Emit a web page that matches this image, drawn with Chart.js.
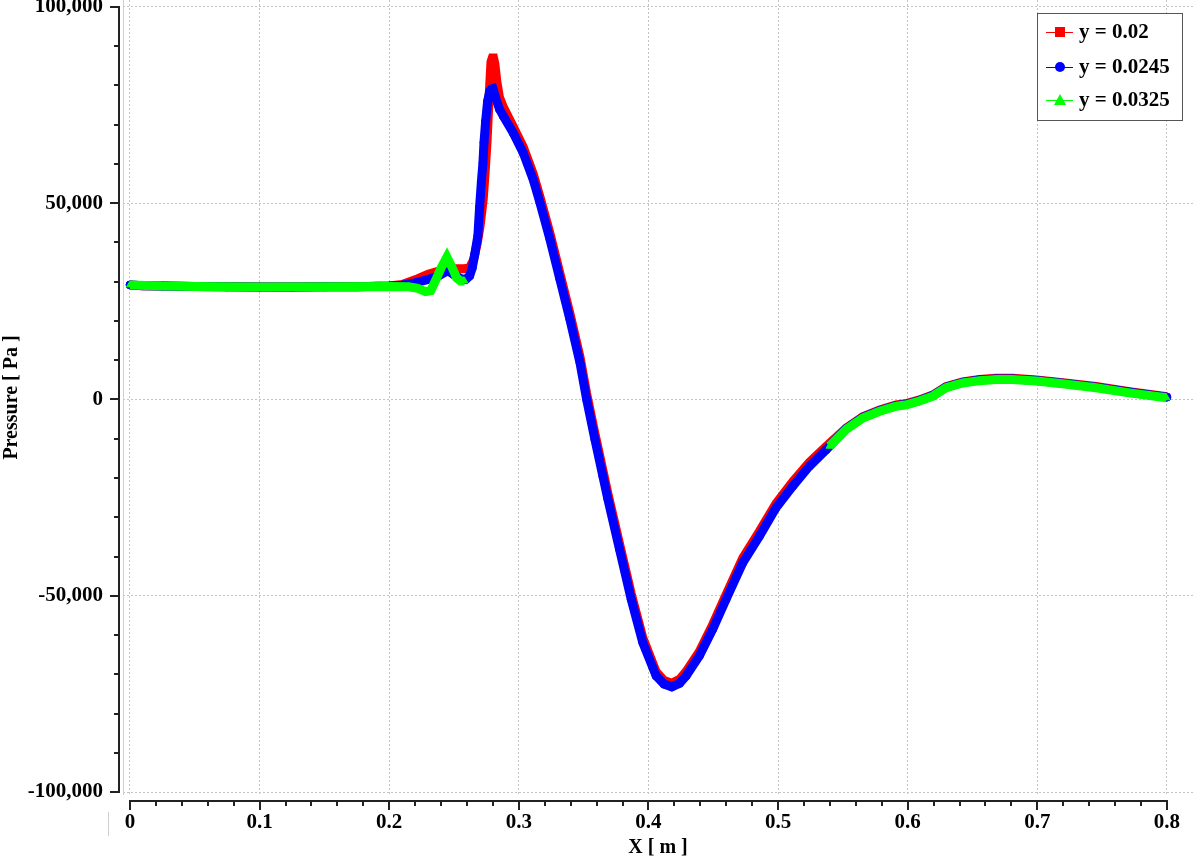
<!DOCTYPE html>
<html>
<head>
<meta charset="utf-8">
<title>Pressure along X</title>
<style>
  html, body { margin: 0; padding: 0; background: #ffffff; }
  #wrap { width: 1193px; height: 860px; }
</style>
</head>
<body>
<div id="wrap"><canvas id="myChart" width="1193" height="860"></canvas></div>

<script src="https://cdn.jsdelivr.net/npm/chart.js@4.4.0/dist/chart.umd.min.js"></script>
<script>

    // tick values and labels
    const xTicks = [0, 0.1, 0.2, 0.3, 0.4, 0.5, 0.6, 0.7, 0.8];
    const xTickLabels = ['0', '0.1', '0.2', '0.3', '0.4', '0.5', '0.6', '0.7', '0.8'];
    const yTicks = [-100000, -50000, 0, 50000, 100000];
    const yTickLabels = ['-100,000', '-50,000', '0', '50,000', '100,000'];

    const seriesNames = ['y = 0.02', 'y = 0.0245', 'y = 0.0325'];

    // y = 0.02 (red, squares)
    const redX = [0.000, 0.010, 0.025, 0.050, 0.075, 0.100, 0.125, 0.150, 0.175, 0.200,
        0.210, 0.220, 0.230, 0.240, 0.250, 0.258, 0.262, 0.265, 0.268, 0.270,
        0.2725, 0.274, 0.2755, 0.2765, 0.2775, 0.2785, 0.2795, 0.2805, 0.2815, 0.283,
        0.285, 0.288, 0.2957, 0.3034, 0.3111, 0.3163, 0.324, 0.3317, 0.3394, 0.3472,
        0.3523, 0.3587, 0.3648, 0.3687, 0.3777, 0.3867, 0.3956, 0.4059, 0.412, 0.418,
        0.424, 0.4291, 0.4393, 0.4496, 0.4599, 0.4727, 0.4856, 0.4984, 0.5112, 0.5241,
        0.537, 0.5526, 0.5654, 0.5783, 0.5911, 0.5996, 0.6091, 0.6193, 0.6296, 0.6424,
        0.6553, 0.6681, 0.6809, 0.6993, 0.7196, 0.7453, 0.7711, 0.800];
    const redY = [29200, 29000, 28900, 28800, 28700, 28650, 28650, 28700, 28750, 28900,
        29300, 30500, 31900, 32900, 33300, 33300, 33600, 35500, 40000, 44000,
        51000, 58000, 66000, 73000, 80000, 86000, 87000, 87000, 85500, 81000,
        77000, 74500, 69500, 64300, 57500, 51600, 42300, 32100, 21900, 10800,
        1500, -8700, -18000, -24000, -36800, -49500, -60700, -69400, -71600, -72300,
        -71300, -69300, -64200, -57300, -49700, -40400, -33600, -26500, -21000, -16000,
        -12000, -7300, -4400, -2700, -1400, -1000, -100, 1150, 3300, 4500,
        5100, 5400, 5400, 5000, 4300, 3300, 2000, 730];

    // y = 0.0245 (blue, circles)
    const blueX = [0.000, 0.010, 0.025, 0.050, 0.075, 0.100, 0.125, 0.150, 0.175, 0.200,
        0.210, 0.220, 0.230, 0.238, 0.245, 0.250, 0.255, 0.259, 0.262, 0.264,
        0.266, 0.2684, 0.2697, 0.2711, 0.2723, 0.2731, 0.2744, 0.2759, 0.2775, 0.2790,
        0.2800, 0.2815, 0.285, 0.288, 0.2957, 0.3034, 0.3111, 0.3163, 0.324, 0.3317,
        0.3394, 0.3472, 0.3523, 0.3587, 0.3648, 0.3687, 0.3777, 0.3867, 0.3956, 0.4059,
        0.412, 0.418, 0.424, 0.4291, 0.4393, 0.4496, 0.4599, 0.4727, 0.4856, 0.4984,
        0.5112, 0.5241, 0.537, 0.5526, 0.5654, 0.5783, 0.5911, 0.5996, 0.6091, 0.6193,
        0.6296, 0.6424, 0.6553, 0.6681, 0.6809, 0.6993, 0.7196, 0.7453, 0.7711, 0.800];
    const blueY = [29200, 29000, 28900, 28800, 28700, 28650, 28650, 28700, 28750, 28900,
        29100, 29700, 30600, 31500, 32800, 31800, 30800, 30600, 31500, 33500,
        37000, 41800, 49000, 55500, 60300, 65500, 71000, 76000, 78500, 79100,
        79200, 77500, 74000, 72200, 67900, 62800, 56000, 50100, 40800, 30600,
        20400, 9300, 0, -10200, -19500, -25400, -38200, -50900, -61900, -70400,
        -72500, -73200, -72300, -70400, -65300, -58500, -50900, -41600, -34800, -27600,
        -22100, -17000, -12800, -7450, -4550, -2850, -1550, -1150, -250, 1000,
        3150, 4350, 4950, 5250, 5250, 4850, 4150, 3150, 1850, 600];

    // y = 0.0325 (green, triangles) - no values between 0.26 and 0.54
    const greenX = [0.000, 0.025, 0.050, 0.100, 0.150, 0.200, 0.215, 0.222, 0.228, 0.232,
        0.236, 0.240, 0.2445, 0.248, 0.252, 0.255, 0.258, 0.400,
        0.5397, 0.5526, 0.5654, 0.5783, 0.5911, 0.5996, 0.6091, 0.6193, 0.6296, 0.6424,
        0.6553, 0.6681, 0.6809, 0.6993, 0.7196, 0.7453, 0.7711, 0.7996];
    const greenY = [29200, 28900, 28800, 28650, 28700, 28800, 28700, 28300, 27500, 27700,
        30500, 33500, 36300, 34000, 31000, 30200, 30200, null,
        -11900, -7600, -4700, -3000, -1700, -1300, -400, 850, 3000, 4200,
        4800, 5100, 5100, 4700, 4000, 3000, 1700, 430];

    const seriesColors = ['#ff0000', '#0000ff', '#00ff00'];
    const seriesShapes = ['rect', 'circle', 'triangle'];

    const FONT = 'Liberation Serif, Times New Roman, serif';

    function toPoints(xs, ys) {
        return xs.map((x, i) => ({ x: x, y: ys[i] }));
    }

    // axes drawn away from the plot, with minor ticks
    const axesFrame = {
        id: 'axesFrame',
        afterDraw(chart) {
            const { ctx, chartArea } = chart;
            const xs = chart.scales.x, ys = chart.scales.y;
            ctx.save();

            ctx.strokeStyle = '#cfcfcf';
            ctx.lineWidth = 1;
            ctx.beginPath();
            ctx.moveTo(chartArea.left + 0.5, chartArea.top);
            ctx.lineTo(chartArea.left + 0.5, chartArea.bottom);
            ctx.moveTo(108.5, 812);
            ctx.lineTo(108.5, 836);
            ctx.stroke();

            ctx.strokeStyle = '#222222';
            ctx.lineWidth = 2;

            // y axis
            const ax = chartArea.left - 4;
            ctx.beginPath();
            ctx.moveTo(ax, ys.getPixelForValue(yTicks[yTicks.length - 1]) - 1);
            ctx.lineTo(ax, ys.getPixelForValue(yTicks[0]) + 1);
            for (let v = yTicks[0]; v <= yTicks[yTicks.length - 1]; v += 10000) {
                const py = Math.round(ys.getPixelForValue(v));
                const len = (v % 50000 === 0) ? 9 : 5;
                ctx.moveTo(ax, py);
                ctx.lineTo(ax - len, py);
            }
            ctx.stroke();

            // x axis
            const ay = chartArea.bottom + 6;
            ctx.beginPath();
            ctx.moveTo(xs.getPixelForValue(xTicks[0]) - 1, ay);
            ctx.lineTo(xs.getPixelForValue(xTicks[xTicks.length - 1]) + 1, ay);
            for (let i = 0; i <= 40; i++) {
                const px = Math.round(xs.getPixelForValue(i * 0.02));
                const len = (i % 5 === 0) ? 9 : 5;
                ctx.moveTo(px, ay);
                ctx.lineTo(px, ay + len);
            }
            ctx.stroke();
            ctx.restore();
        }
    };

    // boxed legend, upper right
    const boxLegend = {
        id: 'boxLegend',
        afterDraw(chart) {
            const { ctx } = chart;
            ctx.save();
            ctx.fillStyle = '#ffffff';
            ctx.fillRect(1037, 13, 145, 107);
            ctx.strokeStyle = '#555555';
            ctx.lineWidth = 1;
            ctx.strokeRect(1037.5, 13.5, 145, 107);

            const rows = [32, 67, 100];
            for (let i = 0; i < seriesNames.length; i++) {
                const yy = rows[i];
                ctx.strokeStyle = seriesColors[i];
                ctx.fillStyle = seriesColors[i];
                ctx.lineWidth = 1;
                ctx.beginPath();
                ctx.moveTo(1046, yy + 0.5);
                ctx.lineTo(1073, yy + 0.5);
                ctx.stroke();
                ctx.beginPath();
                if (seriesShapes[i] === 'rect') {
                    ctx.rect(1055, yy - 5, 10, 10);
                } else if (seriesShapes[i] === 'circle') {
                    ctx.arc(1060, yy, 5, 0, Math.PI * 2);
                } else {
                    ctx.moveTo(1060, yy - 6);
                    ctx.lineTo(1066, yy + 5);
                    ctx.lineTo(1054, yy + 5);
                    ctx.closePath();
                }
                ctx.fill();

                ctx.fillStyle = '#000000';
                ctx.font = 'bold 21px ' + FONT;
                ctx.textBaseline = 'middle';
                ctx.textAlign = 'left';
                ctx.fillText(seriesNames[i], 1079, yy + 1);
            }
            ctx.restore();
        }
    };

    function makeSet(i, xs, ys, order) {
        return {
            label: seriesNames[i],
            data: toPoints(xs, ys),
            borderColor: seriesColors[i],
            backgroundColor: seriesColors[i],
            borderWidth: 9,
            pointStyle: seriesShapes[i],
            pointRadius: 4,
            pointBorderWidth: 1,
            pointHoverRadius: 4,
            tension: 0,
            spanGaps: false,
            order: order
        };
    }

    const tickFont = { family: FONT, size: 21, weight: 'bold' };

    new Chart(document.getElementById('myChart'), {
        type: 'line',
        plugins: [axesFrame, boxLegend],
        data: {
            datasets: [
                makeSet(0, redX, redY, 3),
                makeSet(1, blueX, blueY, 2),
                makeSet(2, greenX, greenY, 1)
            ]
        },
        options: {
            responsive: false,
            animation: false,
            events: [],
            layout: { padding: 0, autoPadding: false },
            plugins: {
                legend: { display: false },
                tooltip: { enabled: false }
            },
            scales: {
                x: {
                    type: 'linear',
                    min: -0.0054,
                    max: 0.8201,
                    afterBuildTicks: (s) => { s.ticks = xTicks.map(v => ({ value: v })); },
                    afterFit: (s) => {
                        s.height = 65;
                        s.paddingLeft = 0; s.paddingRight = 0;
                    },
                    ticks: {
                        autoSkip: false,
                        maxRotation: 0,
                        padding: 15,
                        color: '#000000',
                        font: tickFont,
                        callback: (v, i) => xTickLabels[i]
                    },
                    grid: { color: '#c4c4c4', lineWidth: 1, drawTicks: false },
                    border: { display: false, dash: [2, 2] },
                    title: {
                        display: true,
                        text: 'X [ m ]',
                        color: '#000000',
                        font: { family: FONT, size: 20, weight: 'bold' },
                        padding: 0
                    }
                },
                y: {
                    type: 'linear',
                    min: -100764,
                    max: 101783,
                    afterBuildTicks: (s) => { s.ticks = yTicks.map(v => ({ value: v })); },
                    afterFit: (s) => {
                        s.width = 123;
                        s.paddingTop = 0; s.paddingBottom = 0;
                    },
                    ticks: {
                        autoSkip: false,
                        padding: 20,
                        color: '#000000',
                        font: tickFont,
                        callback: (v, i) => yTickLabels[i]
                    },
                    grid: { color: '#c4c4c4', lineWidth: 1, drawTicks: false },
                    border: { display: false, dash: [2, 2] },
                    title: {
                        display: true,
                        text: 'Pressure [ Pa ]',
                        color: '#000000',
                        font: { family: FONT, size: 20, weight: 'bold' },
                        padding: 0
                    }
                }
            }
        }
    });
</script>
</body>
</html>
